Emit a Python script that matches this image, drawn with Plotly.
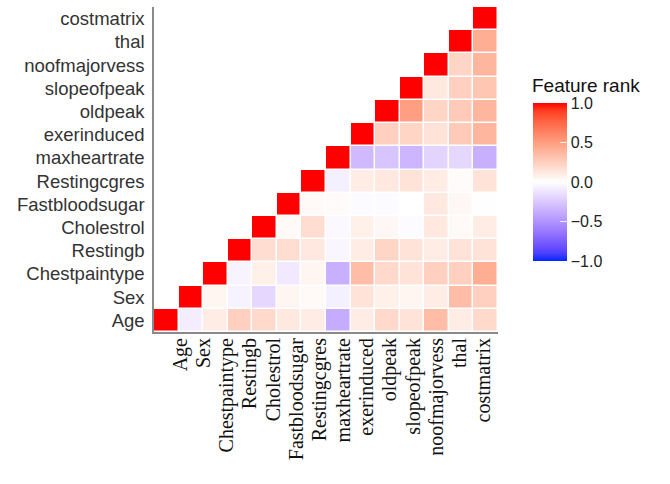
import plotly.graph_objects as go

features = ["Age", "Sex", "Chestpaintype", "Restingb", "Cholestrol", "Fastbloodsugar",
            "Restingcgres", "maxheartrate", "exerinduced", "oldpeak", "slopeofpeak",
            "noofmajorvess", "thal", "costmatrix"]

N = None
r_age      = [1, -0.08, 0.10, 0.25, 0.20, 0.12, 0.10, -0.38, 0.10, 0.20, 0.15, 0.35, 0.10, 0.20]
r_sex      = [N, 1, 0.05, -0.06, -0.18, 0.05, 0.03, -0.07, 0.15, 0.08, 0.05, 0.10, 0.35, 0.25]
r_chest    = [N, N, 1, -0.05, 0.08, -0.10, 0.05, -0.36, 0.35, 0.20, 0.15, 0.25, 0.25, 0.42]
r_restingb = [N, N, N, 1, 0.18, 0.18, 0.12, -0.04, 0.10, 0.22, 0.15, 0.10, 0.15, 0.15]
r_chol     = [N, N, N, N, 1, 0.03, 0.18, -0.03, 0.08, 0.04, -0.02, 0.12, 0.03, 0.10]
r_fbs      = [N, N, N, N, N, 1, 0.03, 0.02, -0.02, -0.02, 0.0, 0.12, 0.04, -0.01]
r_restecg  = [N, N, N, N, N, N, 1, -0.07, 0.10, 0.12, 0.15, 0.10, 0.02, 0.15]
r_maxhr    = [N, N, N, N, N, N, N, 1, -0.32, -0.27, -0.34, -0.20, -0.18, -0.36]
r_exer     = [N, N, N, N, N, N, N, N, 1, 0.25, 0.22, 0.15, 0.28, 0.38]
r_oldpeak  = [N, N, N, N, N, N, N, N, N, 1, 0.50, 0.22, 0.28, 0.38]
r_slope    = [N, N, N, N, N, N, N, N, N, N, 1, 0.12, 0.25, 0.30]
r_noofmaj  = [N, N, N, N, N, N, N, N, N, N, N, 1, 0.22, 0.38]
r_thal     = [N, N, N, N, N, N, N, N, N, N, N, N, 1, 0.42]
r_cost     = [N, N, N, N, N, N, N, N, N, N, N, N, N, 1]

z = [r_age, r_sex, r_chest, r_restingb, r_chol, r_fbs, r_restecg, r_maxhr,
     r_exer, r_oldpeak, r_slope, r_noofmaj, r_thal, r_cost]

cbar_ticks = [-1.0, -0.5, 0.0, 0.5, 1.0]
cbar_title = "Feature rank"


# --- Lab interpolated diverging colour scale (blue - white - red) ---
def srgb_to_lab(rgb):
    def lin(c):
        c = c / 255.0
        return c / 12.92 if c <= 0.04045 else ((c + 0.055) / 1.055) ** 2.4
    r, g, b = (lin(c) for c in rgb)
    x = (0.4124 * r + 0.3576 * g + 0.1805 * b) / 0.95047
    y = (0.2126 * r + 0.7152 * g + 0.0722 * b) / 1.0
    zz = (0.0193 * r + 0.1192 * g + 0.9505 * b) / 1.08883
    def f(t):
        return t ** (1 / 3) if t > 0.008856 else 7.787 * t + 16 / 116
    fx, fy, fz = f(x), f(y), f(zz)
    return (116 * fy - 16, 500 * (fx - fy), 200 * (fy - fz))


def lab_to_srgb(lab):
    L, a, b = lab
    fy = (L + 16) / 116
    fx = fy + a / 500
    fz = fy - b / 200
    def finv(t):
        return t ** 3 if t ** 3 > 0.008856 else (t - 16 / 116) / 7.787
    x, y, zz = finv(fx) * 0.95047, finv(fy), finv(fz) * 1.08883
    r = 3.2406 * x - 1.5372 * y - 0.4986 * zz
    g = -0.9689 * x + 1.8758 * y + 0.0415 * zz
    bb = 0.0557 * x - 0.2040 * y + 1.0570 * zz
    def gam(c):
        c = max(0.0, min(1.0, c))
        return 12.92 * c if c <= 0.0031308 else 1.055 * c ** (1 / 2.4) - 0.055
    return "rgb(%d,%d,%d)" % tuple(round(255 * gam(c)) for c in (r, g, bb))


low, mid, high = srgb_to_lab((0, 40, 255)), srgb_to_lab((255, 255, 255)), srgb_to_lab((255, 0, 0))
colorscale = []
n = 20
for k in range(n + 1):
    s = k / n
    if s <= 0.5:
        t = s / 0.5
        lab = tuple(low[i] + (mid[i] - low[i]) * t for i in range(3))
    else:
        t = (s - 0.5) / 0.5
        lab = tuple(mid[i] + (high[i] - mid[i]) * t for i in range(3))
    colorscale.append([s, lab_to_srgb(lab)])

# plot area in pixels: x 154..498, y 7..332
px_l, px_r, px_t, px_b = 154, 498, 7, 332
pw, ph = px_r - px_l, px_b - px_t

fig = go.Figure()
fig.add_trace(go.Heatmap(
    z=z, x=features, y=features,
    zmin=-1, zmax=1, colorscale=colorscale,
    xgap=1.5, ygap=1.5, hoverongaps=False,
    colorbar=dict(
        x=(533 - px_l) / pw, xanchor="left",
        y=(px_b - 103) / ph, yanchor="top",
        len=158, lenmode="pixels", thickness=34,
        outlinewidth=0, xpad=0, ypad=0,
        tickvals=cbar_ticks, tickformat=".1f",
        ticks="inside", ticklen=7, tickcolor="rgba(255,255,255,0.8)", tickwidth=1,
        tickfont=dict(family="Liberation Sans, Arial", size=16, color="#222"),
    ),
))

# invisible trace to carry the label axis
fig.add_trace(go.Scatter(x=[0, len(features) - 1], y=[features[0], features[0]],
                         xaxis="x2", yaxis="y", mode="markers",
                         marker=dict(opacity=0), hoverinfo="skip", showlegend=False))

fig.add_annotation(text=cbar_title, xref="paper", yref="paper",
                   x=(530 - px_l) / pw, y=(px_b - 85) / ph,
                   xanchor="left", yanchor="middle", showarrow=False,
                   font=dict(family="Liberation Sans, Arial", size=19, color="#111"))

fig.update_layout(
    width=670, height=484,
    margin=dict(l=px_l, r=670 - px_r, t=px_t, b=484 - px_b),
    paper_bgcolor="white", plot_bgcolor="white",
    xaxis=dict(type="category", range=[-0.5, 13.5], showticklabels=False,
               showgrid=False, zeroline=False, showline=True,
               linecolor="#8a8a8a", linewidth=1.5, ticks=""),
    xaxis2=dict(overlaying="x", anchor="y", side="bottom", type="linear",
                range=[-1.116, 13.64], tickmode="array",
                tickvals=list(range(len(features))), ticktext=features,
                tickangle=-90, showgrid=False, zeroline=False, showline=False,
                ticks="", ticklabelstandoff=1,
                tickfont=dict(family="Liberation Serif, Times New Roman", size=20, color="#111")),
    yaxis=dict(type="category", range=[-0.5, 13.5], showgrid=False, zeroline=False,
               showline=True, linecolor="#8a8a8a", linewidth=1.5, ticks="",
               ticklabelstandoff=4,
               tickfont=dict(family="Liberation Sans, Arial", size=18.5, color="#333")),
    showlegend=False,
)

fig.write_html("out.html")
